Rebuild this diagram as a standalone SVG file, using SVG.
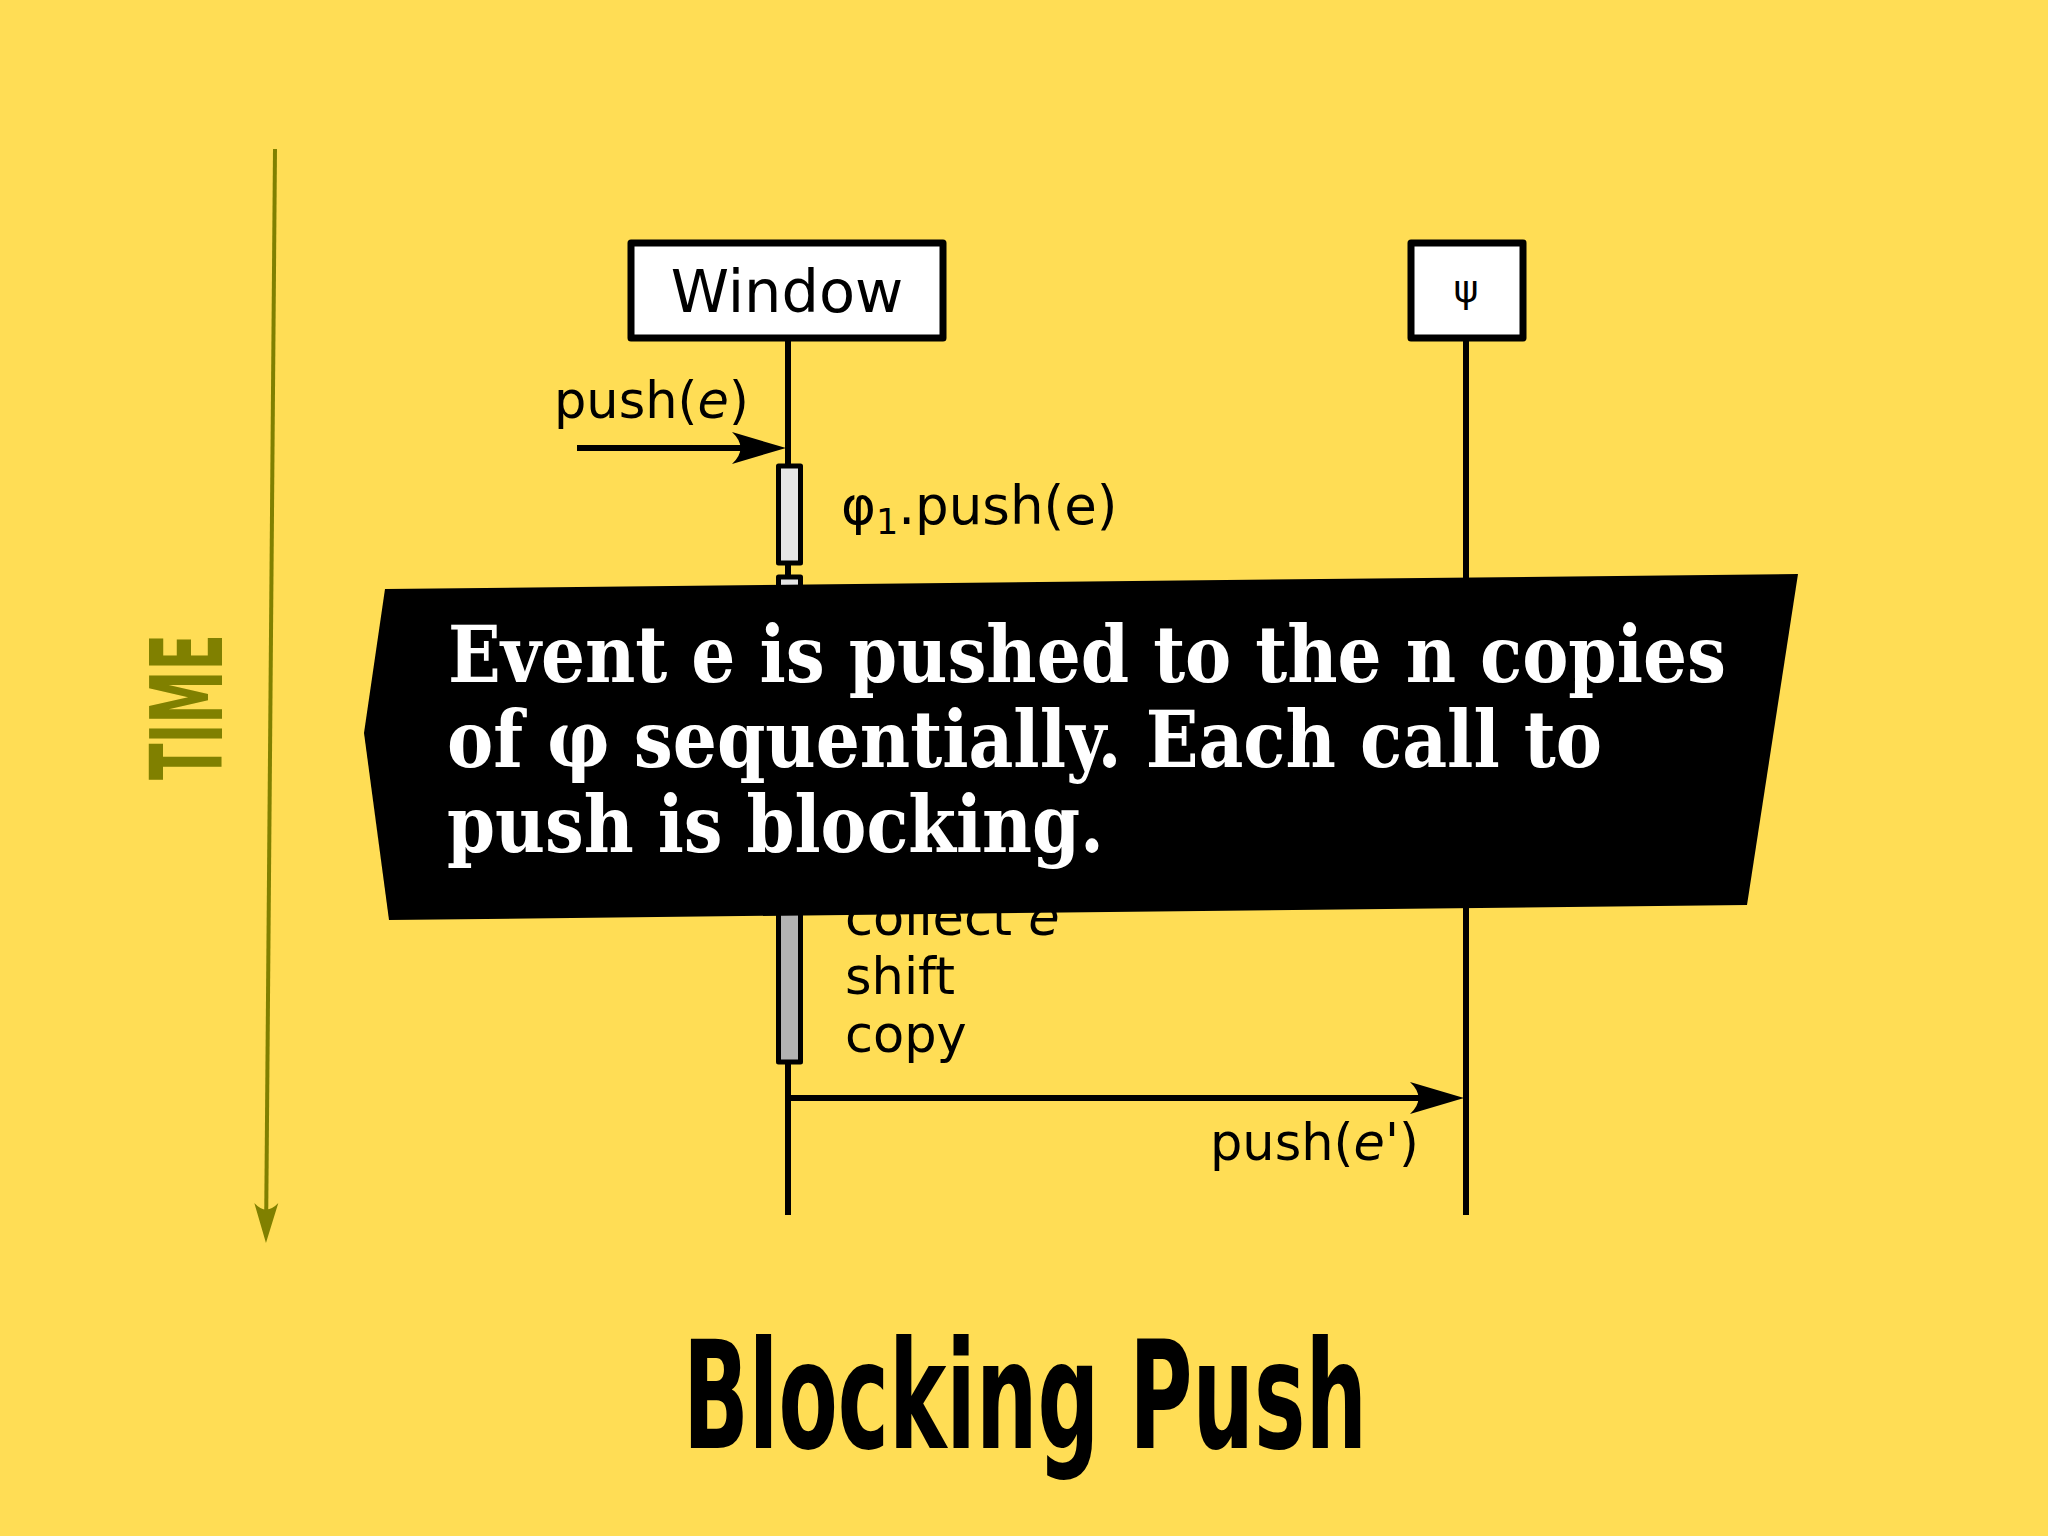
<svg xmlns="http://www.w3.org/2000/svg" width="2048" height="1536" viewBox="0 0 2048 1536">
<style>
.box{fill:#ffffff;stroke:#000;stroke-width:7;stroke-linejoin:round}
.life{stroke:#000;stroke-width:6;fill:none}
.bar{stroke:#000;stroke-width:5;stroke-linejoin:round}
.msg{stroke:#000;stroke-width:6;fill:none}
.lbl{font-family:"DejaVu Sans","Noto Sans",sans-serif;font-size:51px;fill:#000}
.note{font-family:"DejaVu Serif","Liberation Serif",serif;font-weight:bold;font-size:78px;fill:#fff;font-stretch:condensed}
</style>
<defs>
<marker id="ah" viewBox="-35 -20 65 40" refX="0" refY="0" markerWidth="65" markerHeight="40" markerUnits="userSpaceOnUse" orient="auto" overflow="visible">
<path d="M25,0 L-29,-16 Q-12,0 -29,16 Z" fill="#000"/>
</marker>
<marker id="ahT" viewBox="-30 -15 50 30" refX="0" refY="0" markerWidth="50" markerHeight="30" markerUnits="userSpaceOnUse" orient="auto" overflow="visible">
<path d="M15,0 L-25,-12 Q-12,0 -25,12 Z" fill="#808000"/>
</marker>
</defs>
<rect x="0" y="0" width="2048" height="1536" fill="#ffdd55"/>

<g id="time-axis">
<line x1="275" y1="149" x2="266.1" y2="1228" stroke="#808000" stroke-width="4" marker-end="url(#ahT)"/>
<text transform="translate(222,780) rotate(-90)" style="font-family:'DejaVu Sans','Liberation Sans',sans-serif;font-weight:bold;font-stretch:condensed" font-size="100" fill="#808000" textLength="146" lengthAdjust="spacingAndGlyphs">TIME</text>
</g>

<g id="window">
<line class="life" x1="788" y1="338" x2="788" y2="1215"/>
<rect class="box" x="631" y="243" width="312" height="95"/>
<text class="lbl" x="787" y="312" style="font-size:59px" text-anchor="middle">Window</text>
<rect class="bar" x="778.5" y="466" width="22" height="97" fill="#e6e6e6"/>
<rect class="bar" x="778.5" y="577" width="22" height="120" fill="#e6e6e6"/>
<rect class="bar" x="778.5" y="700" width="22" height="362" fill="#b3b3b3"/>
<text class="lbl" x="841" y="524" style="font-size:53px">φ<tspan style="font-size:35px" dy="10">1</tspan><tspan dy="-10">.push(e)</tspan></text>
<text class="lbl" x="845" y="935">collect <tspan font-style="italic">e</tspan></text>
<text class="lbl" x="845" y="994">shift</text>
<text class="lbl" x="845" y="1052">copy</text>
</g>

<g id="psi">
<line class="life" x1="1466" y1="338" x2="1466" y2="1215"/>
<rect class="box" x="1411" y="243" width="112" height="95"/>
<text class="lbl" x="1466" y="302" style="font-size:38px" text-anchor="middle">ψ</text>
</g>

<g id="connectors">
<line class="msg" x1="577" y1="448" x2="761" y2="448" marker-end="url(#ah)"/>
<text class="lbl" x="554" y="418">push(<tspan font-style="italic">e</tspan>)</text>
<line class="msg" x1="788" y1="1098" x2="1439" y2="1098" marker-end="url(#ah)"/>
<text class="lbl" x="1210" y="1160">push(<tspan font-style="italic">e</tspan>')</text>
</g>

<g id="note">
<polygon points="385,589 1798,574 1747,905 389,920 364,733" fill="#000"/>
<text class="note" x="448" y="682" textLength="1278" lengthAdjust="spacingAndGlyphs">Event e is pushed to the n copies</text>
<text class="note" x="447" y="767" textLength="1155" lengthAdjust="spacingAndGlyphs">of φ sequentially. Each call to</text>
<text class="note" x="447" y="852" textLength="657" lengthAdjust="spacingAndGlyphs">push is blocking.</text>
</g>

<g id="title">
<text x="683" y="1448" style="font-family:'DejaVu Sans','Liberation Sans',sans-serif;font-weight:bold;font-stretch:condensed" font-size="150" fill="#000" textLength="684" lengthAdjust="spacingAndGlyphs">Blocking Push</text>
</g>
</svg>
